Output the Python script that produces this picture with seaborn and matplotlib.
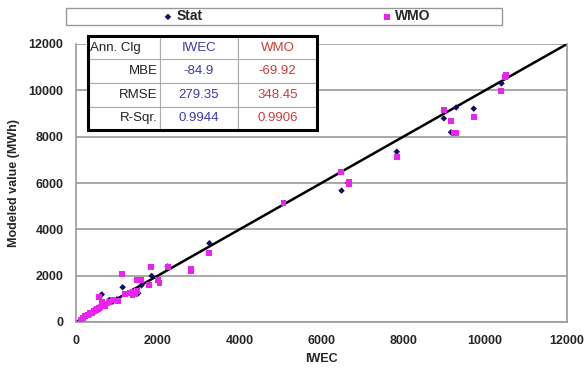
import numpy as np
import pandas as pd
import matplotlib
matplotlib.use("Agg")
import matplotlib.pyplot as plt
from matplotlib.patches import Rectangle
import seaborn as sns

# data
stat_x = [150, 250, 350, 450, 520, 600, 630, 700, 815, 900, 1000, 1140, 1300,
          1400, 1520, 1600, 1850, 2240, 3260, 6490, 6650, 7840, 8990, 9165,
          9290, 9720, 10400]
stat_y = [140, 270, 330, 430, 500, 580, 1190, 720, 950, 880, 980, 1500, 1250,
          1350, 1240, 1580, 1990, 2400, 3400, 5670, 6000, 7350, 8790, 8190,
          9260, 9210, 10300]

wmo_x = [120, 180, 230, 300, 350, 400, 430, 480, 520, 560, 570, 600, 630, 650,
         700, 750, 800, 900, 1030, 1120, 1200, 1330, 1380, 1400, 1450, 1480,
         1500, 1600, 1790, 1830, 2000, 2040, 2240, 2810, 2810, 3260, 5070,
         6470, 6670, 6670, 7840, 8990, 9165, 9230, 9300, 9720, 10390, 10510,
         10490]
wmo_y = [110, 190, 240, 300, 370, 380, 460, 500, 560, 600, 1070, 650, 880, 720,
         700, 800, 850, 950, 910, 2060, 1200, 1250, 1150, 1300, 1200, 1810,
         1350, 1810, 1600, 2360, 1810, 1700, 2360, 2290, 2190, 2980, 5150,
         6490, 6050, 5950, 7140, 9150, 8690, 8160, 8160, 8850, 9960, 10650,
         10560]

line_x = [0, 12000]
line_y = [0, 12000]

tbl_cols = ["Ann. Clg", "IWEC", "WMO"]
tbl_rows = ["MBE", "RMSE", "R-Sqr."]
tbl_iwec = ["-84.9", "279.35", "0.9944"]
tbl_wmo = ["-69.92", "348.45", "0.9906"]

ticks = [0, 2000, 4000, 6000, 8000, 10000, 12000]

sns.set_style("white")
plt.rcParams["font.family"] = ["Liberation Sans", "DejaVu Sans"]

df = pd.concat([
    pd.DataFrame({"x": stat_x, "y": stat_y, "s": "Stat"}),
    pd.DataFrame({"x": wmo_x, "y": wmo_y, "s": "WMO"}),
])

fig = plt.figure(figsize=(5.87, 3.70), dpi=100)
ax = fig.add_axes([76 / 587, 48 / 370, 491 / 587, 278 / 370])

ax.plot(line_x, line_y, color="black", lw=1.8, zorder=2)
sns.scatterplot(data=df[df.s == "Stat"], x="x", y="y", marker="D", s=11,
                color="#101060", edgecolor="none", ax=ax, zorder=3, label="Stat")
sns.scatterplot(data=df[df.s == "WMO"], x="x", y="y", marker="s", s=18,
                color="#ee22ee", edgecolor="none", ax=ax, zorder=4, label="WMO")

ax.set_xlim(0, 12000)
ax.set_ylim(0, 12000)
ax.set_xticks(ticks)
ax.set_yticks(ticks)
ax.yaxis.grid(True, color="#9a9a9a", lw=1.2)
ax.xaxis.grid(False)
for side in ["left", "bottom", "right"]:
    ax.spines[side].set_color("#9a9a9a")
    ax.spines[side].set_linewidth(1.2)
ax.spines["top"].set_visible(False)
ax.tick_params(axis="both", length=4, color="#9a9a9a", labelsize=9)
ax.tick_params(axis="x", direction="out", pad=5)
ax.tick_params(axis="y", direction="out", pad=5)
for lab in ax.get_xticklabels() + ax.get_yticklabels():
    lab.set_fontweight("bold")
ax.set_xlabel("IWEC", fontsize=9, fontweight="bold", labelpad=5)
ax.set_ylabel("Modeled value (MWh)", fontsize=9, fontweight="bold", labelpad=6)

# stats table
cell_text = [[tbl_cols[0], tbl_cols[1], tbl_cols[2]]]
for r, a, b in zip(tbl_rows, tbl_iwec, tbl_wmo):
    cell_text.append([r, a, b])
tb = ax.table(cellText=cell_text, cellLoc="center",
              colWidths=[72 / 491, 78 / 491, 79 / 491],
              bbox=[12 / 491, (322 - 130) / 278, 229 / 491, 94 / 278])
tb.auto_set_font_size(False)
tb.set_fontsize(9.5)
for (i, j), cell in tb.get_celld().items():
    cell.set_edgecolor("#aaaaaa")
    cell.set_linewidth(0.8)
    cell.set_facecolor("white")
    t = cell.get_text()
    if j == 0:
        t.set_ha("left" if i == 0 else "right")
        cell.PAD = 0.03
        t.set_color("#222222")
    elif j == 1:
        t.set_color("#3a3ab0")
    else:
        t.set_color("#d03a3a")
tb.set_zorder(6)
tb.set_clip_on(False)
ax.add_patch(Rectangle((12 / 491, (322 - 130) / 278), 229 / 491, 94 / 278,
                       transform=ax.transAxes, fill=False, ec="black", lw=2.2,
                       zorder=7, clip_on=False))

# legend box on top
ax.get_legend().remove()
h, l = ax.get_legend_handles_labels()
fig.add_artist(Rectangle((66 / 587, 1 - 25 / 370), 436 / 587, 17 / 370,
                         transform=fig.transFigure, fill=False, ec="#999999",
                         lw=1.0))
leg = fig.legend(h, l, loc="center", bbox_to_anchor=(296 / 587, 1 - 16.5 / 370),
                 ncol=2, frameon=False, handletextpad=0.1, columnspacing=12.8,
                 handlelength=1.0, markerscale=1.0,
                 prop={"weight": "bold", "size": 10})

fig.savefig("out.png", dpi=100)
